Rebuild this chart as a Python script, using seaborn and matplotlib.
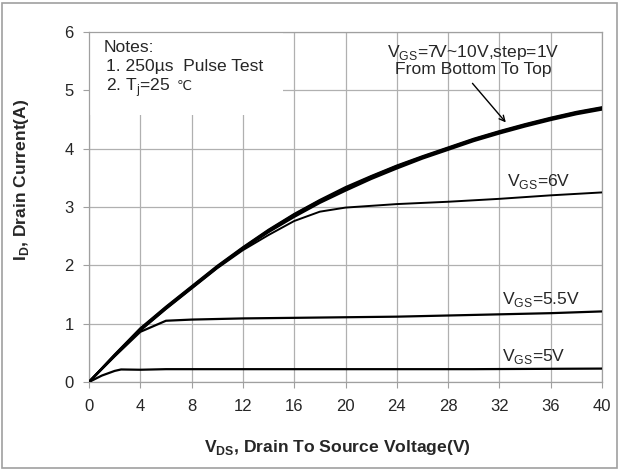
import pandas as pd
import matplotlib.pyplot as plt
import seaborn as sns

# V_DS points (V) and drain current (A)
vds_hi = [0, 2, 4, 6, 8, 10, 12, 14, 16, 18, 20, 22, 24, 26, 28, 30, 32, 34, 36, 38, 40]
id_7v = [0, 0.45, 0.89, 1.26, 1.61, 1.96, 2.28, 2.57, 2.83, 3.07, 3.28, 3.48, 3.66, 3.83, 3.98, 4.13, 4.26, 4.38, 4.49, 4.59, 4.67]
id_8v = [0, 0.46, 0.90, 1.27, 1.62, 1.97, 2.29, 2.58, 2.85, 3.09, 3.30, 3.50, 3.68, 3.85, 4.00, 4.15, 4.28, 4.40, 4.51, 4.61, 4.69]
id_9v = [0, 0.46, 0.91, 1.28, 1.63, 1.98, 2.30, 2.60, 2.87, 3.11, 3.32, 3.52, 3.70, 3.86, 4.01, 4.16, 4.29, 4.41, 4.52, 4.62, 4.70]
id_10v = [0, 0.47, 0.92, 1.29, 1.64, 1.99, 2.31, 2.61, 2.88, 3.12, 3.34, 3.53, 3.71, 3.87, 4.02, 4.17, 4.30, 4.42, 4.53, 4.63, 4.71]

vds_6v = [0, 2, 4, 6, 8, 10, 12, 14, 16, 18, 20, 24, 28, 32, 36, 40]
id_6v = [0, 0.45, 0.88, 1.25, 1.60, 1.95, 2.26, 2.52, 2.76, 2.92, 2.99, 3.05, 3.09, 3.14, 3.20, 3.25]

vds_55v = [0, 2, 4, 6, 8, 12, 16, 20, 24, 28, 32, 36, 40]
id_55v = [0, 0.44, 0.86, 1.05, 1.07, 1.09, 1.10, 1.11, 1.12, 1.14, 1.16, 1.18, 1.21]

vds_5v = [0, 1, 2, 2.5, 4, 6, 10, 20, 30, 40]
id_5v = [0, 0.11, 0.19, 0.215, 0.21, 0.22, 0.22, 0.22, 0.22, 0.23]

x_ticks = [0, 4, 8, 12, 16, 20, 24, 28, 32, 36, 40]
y_ticks = [0, 1, 2, 3, 4, 5, 6]

sns.set_style("white")
plt.rcParams['font.family'] = ['Liberation Sans', 'DejaVu Sans']
FS = 12.6

fig = plt.figure(figsize=(6.19, 4.70), dpi=100)
ax = fig.add_axes([89 / 619, 1 - 382 / 470, 513 / 619, 350 / 470])

curves = [
    (vds_hi, id_7v, 1.6), (vds_hi, id_8v, 1.6), (vds_hi, id_9v, 1.6), (vds_hi, id_10v, 1.6),
    (vds_6v, id_6v, 1.4), (vds_55v, id_55v, 1.6), (vds_5v, id_5v, 1.6),
]
for xs, ys, lw in curves:
    df = pd.DataFrame({"vds": xs, "id": ys})
    sns.lineplot(data=df, x="vds", y="id", ax=ax, color="black", linewidth=lw, zorder=3)

ax.set_xlim(0, 40)
ax.set_ylim(0, 6)
ax.set_xticks(x_ticks)
ax.set_yticks(y_ticks)
ax.grid(True, color="#b0b0b0", linewidth=0.9, zorder=0)
ax.set_axisbelow(True)
for s in ax.spines.values():
    s.set_color("#a0a0a0")
    s.set_linewidth(0.9)
ax.tick_params(axis="both", labelsize=12, length=4, color="#a0a0a0", direction="out",
               bottom=True, left=True)
ax.tick_params(axis="x", pad=8)
ax.tick_params(axis="y", pad=7)

ax.set_xlabel(r"V$_\mathregular{DS}$, Drain To Source Voltage(V)", fontsize=FS,
              fontweight="bold")
ax.set_ylabel(r"I$_\mathregular{D}$, Drain Current(A)", fontsize=FS, fontweight="bold")
ax.xaxis.set_label_coords(0.484, -0.16)
ax.yaxis.set_label_coords(-0.113, 0.577)

# white notes box hiding the grid
ax.add_patch(plt.Rectangle((0.05, 4.58), 15.1, 1.41, facecolor="white", edgecolor="none",
                           zorder=1.5))
ax.text(1.17, 5.73, "Notes:", fontsize=FS, ha="left", va="center", zorder=4)
ax.text(1.35, 5.40, "1. 250µs  Pulse Test", fontsize=FS, ha="left", va="center", zorder=4)
ax.text(1.35, 5.04, "2. T$_\\mathregular{j}$=25", fontsize=FS, ha="left", va="center", zorder=4)
ax.text(6.8, 5.06, "℃", fontsize=FS - 3, ha="left", va="center", family="DejaVu Sans", zorder=4)

ax.text(30.0, 5.52, "V$_\\mathregular{GS}$=7V~10V,step=1V\nFrom Bottom To Top", fontsize=FS,
        ha="center", va="center", linespacing=0.95, zorder=4)
ax.annotate("", xy=(32.5, 4.45), xytext=(29.9, 5.12),
            arrowprops=dict(arrowstyle="->", color="black", lw=1.0, shrinkA=0, shrinkB=0))

ax.text(32.6, 3.28, "V$_\\mathregular{GS}$=6V", fontsize=FS, ha="left", va="bottom", zorder=4)
ax.text(32.2, 1.25, "V$_\\mathregular{GS}$=5.5V", fontsize=FS, ha="left", va="bottom", zorder=4)
ax.text(32.2, 0.27, "V$_\\mathregular{GS}$=5V", fontsize=FS, ha="left", va="bottom", zorder=4)

fig.patches.append(plt.Rectangle((0.004, 0.004), 0.992, 0.99, transform=fig.transFigure,
                                 fill=False, edgecolor="#a0a0a0", linewidth=1.2))

plt.savefig("out.png", dpi=100)
plt.close()
